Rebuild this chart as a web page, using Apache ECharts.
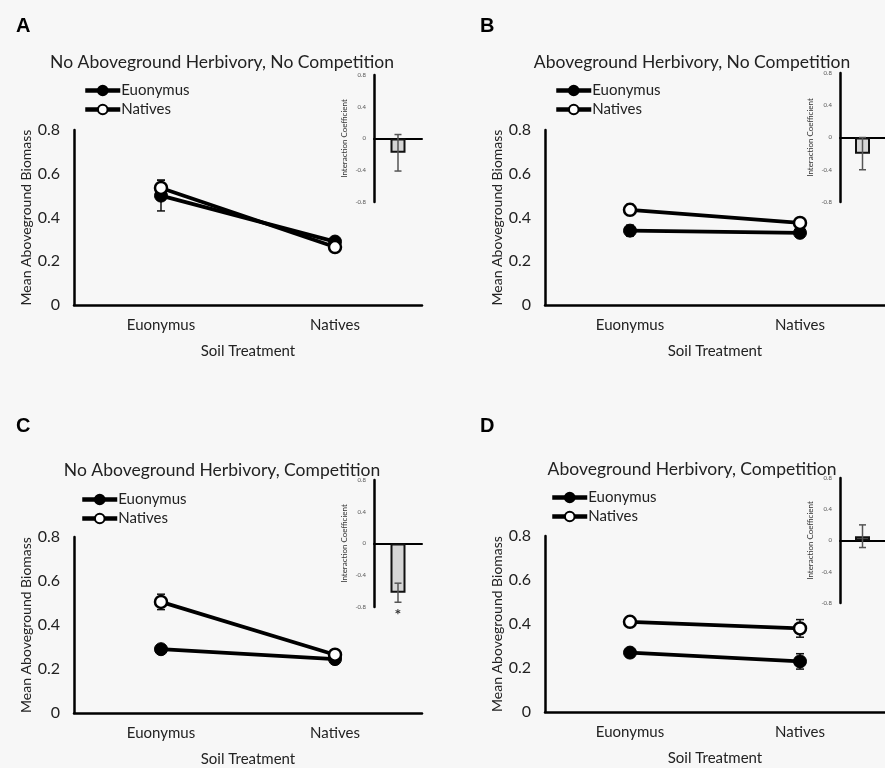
<!DOCTYPE html>
<html>
<head>
<meta charset="utf-8">
<script src="https://cdn.jsdelivr.net/npm/echarts@6/dist/echarts.min.js"></script>
<style>
html,body{margin:0;padding:0;background:#f7f7f7;}
#chart{width:885px;height:768px;}
</style>
</head>
<body>
<div id="chart"></div>
<script>
// ---------------- data ----------------
const categories = ['Euonymus', 'Natives'];
const panelLetters = ['A', 'B', 'C', 'D'];
const panelTitles = [
  'No Aboveground Herbivory, No Competition',
  'Aboveground Herbivory, No Competition',
  'No Aboveground Herbivory, Competition',
  'Aboveground Herbivory, Competition'
];
const seriesNames = ['Euonymus', 'Natives'];
// mean aboveground biomass per panel [Euonymus soil, Natives soil]
const euonymusMean = [[0.50, 0.29], [0.34, 0.33], [0.29, 0.245], [0.27, 0.23]];
const euonymusErr  = [[0.07, 0.02], [0.025, 0.02], [0.01, 0.015], [0.01, 0.035]];
const nativesMean  = [[0.535, 0.265], [0.435, 0.375], [0.505, 0.265], [0.41, 0.38]];
const nativesErr   = [[0.036, 0.015], [0.025, 0.02], [0.035, 0.015], [0.012, 0.04]];
// interaction coefficient inset
const interactionCoef = [-0.18, -0.20, -0.62, 0.055];
const interactionErr  = [0.23, 0.20, 0.12, 0.145];
const significance    = ['', '', '*', ''];
const mainTicks  = [0, 0.2, 0.4, 0.6, 0.8];
const insetTicks = [-0.8, -0.4, 0, 0.4, 0.8];
const xAxisTitle = 'Soil Treatment';
const yAxisTitle = 'Mean Aboveground Biomass';
const insetAxisTitle = 'Interaction Coefficient';

// ---------------- layout ----------------
const FONT = 'Lato, "Open Sans", sans-serif';
const mainGrids = [
  {left: 74, top: 130, width: 348, height: 175},
  {left: 545, top: 130, width: 350, height: 175},
  {left: 74, top: 537, width: 348, height: 176},
  {left: 545, top: 536, width: 350, height: 176}
];
const insetGrids = [
  {left: 374, top: 75, width: 48, height: 127},
  {left: 840, top: 73, width: 48, height: 129},
  {left: 374, top: 480, width: 48, height: 127},
  {left: 840, top: 478, width: 48, height: 125}
];
const titlePos = [[217, 48], [687, 48], [217, 456], [687, 455]];
const letterPos = [[11, 11], [475, 11], [11, 411], [475, 411]];
const legendPos = [[83, 83], [554, 83], [80, 492], [550, 490]];

const grids = [], xAxes = [], yAxes = [], series = [], titles = [], legends = [];

function errRender(color, cap, lw) {
  return function (params, api) {
    const x = api.value(0), lo = api.value(1), hi = api.value(2);
    const a = api.coord([x, lo]), b = api.coord([x, hi]);
    const st = {stroke: color, lineWidth: lw};
    return {type: 'group', children: [
      {type: 'line', shape: {x1: a[0], y1: a[1], x2: b[0], y2: b[1]}, style: st},
      {type: 'line', shape: {x1: a[0] - cap, y1: a[1], x2: a[0] + cap, y2: a[1]}, style: st},
      {type: 'line', shape: {x1: b[0] - cap, y1: b[1], x2: b[0] + cap, y2: b[1]}, style: st}
    ]};
  };
}

for (let p = 0; p < 4; p++) {
  const gi = grids.length;
  grids.push(Object.assign({containLabel: false}, mainGrids[p]));
  xAxes.push({
    gridIndex: gi, type: 'category', data: categories, boundaryGap: true,
    axisLine: {lineStyle: {color: '#000', width: 2.5}},
    axisTick: {show: false},
    axisLabel: {color: '#222', fontSize: 15, fontFamily: FONT, margin: 13},
    name: xAxisTitle, nameLocation: 'middle', nameGap: 39,
    nameTextStyle: {color: '#222', fontSize: 15, fontFamily: FONT},
    splitLine: {show: false}
  });
  yAxes.push({
    gridIndex: gi, type: 'value', min: mainTicks[0], max: mainTicks[mainTicks.length - 1], interval: 0.2,
    axisLine: {show: true, lineStyle: {color: '#000', width: 2.5}},
    axisTick: {show: false},
    axisLabel: {color: '#222', fontSize: 16, fontFamily: FONT, margin: 14},
    splitLine: {show: false},
    name: yAxisTitle, nameLocation: 'middle', nameGap: 40,
    nameTextStyle: {color: '#222', fontSize: 14, fontFamily: FONT}
  });
  const means = [euonymusMean[p], nativesMean[p]];
  const errs = [euonymusErr[p], nativesErr[p]];
  // error bars
  for (let s = 0; s < 2; s++) {
    series.push({
      type: 'custom', xAxisIndex: gi, yAxisIndex: gi, z: 1, silent: true,
      renderItem: errRender('#111', 4, 1.5),
      data: categories.map((c, i) => [i, means[s][i] - errs[s][i], means[s][i] + errs[s][i]])
    });
  }
  series.push({
    name: seriesNames[0], type: 'line', xAxisIndex: gi, yAxisIndex: gi, z: 3,
    data: means[0], symbol: 'circle', symbolSize: 13,
    lineStyle: {color: '#000', width: 3.8},
    itemStyle: {color: '#000', borderColor: '#000', borderWidth: 1}
  });
  series.push({
    name: seriesNames[1], type: 'line', xAxisIndex: gi, yAxisIndex: gi, z: 4,
    data: means[1], symbol: 'circle', symbolSize: 12,
    lineStyle: {color: '#000', width: 3.8},
    itemStyle: {color: '#fff', borderColor: '#000', borderWidth: 2.5}
  });

  // inset
  const ii = grids.length;
  grids.push(Object.assign({containLabel: false}, insetGrids[p]));
  xAxes.push({
    gridIndex: ii, type: 'category', data: [''],
    axisLine: {onZero: true, lineStyle: {color: '#000', width: 2}},
    axisTick: {show: false}, axisLabel: {show: false}, splitLine: {show: false}
  });
  yAxes.push({
    gridIndex: ii, type: 'value', min: insetTicks[0], max: insetTicks[insetTicks.length - 1], interval: 0.4,
    axisLine: {show: true, onZero: false, lineStyle: {color: '#000', width: 2.5}},
    axisTick: {show: false},
    axisLabel: {color: '#555', fontSize: 6, fontFamily: FONT, margin: 8},
    splitLine: {show: false},
    name: insetAxisTitle, nameLocation: 'middle', nameGap: 26,
    nameTextStyle: {color: '#333', fontSize: 8, fontFamily: FONT}
  });
  series.push({
    type: 'bar', xAxisIndex: ii, yAxisIndex: ii, barWidth: 15, silent: true,
    data: [interactionCoef[p]],
    itemStyle: {color: '#d6d6d6', borderColor: '#111', borderWidth: 2}
  });
  series.push({
    type: 'custom', xAxisIndex: ii, yAxisIndex: ii, z: 5, silent: true,
    renderItem: (function (sig) {
      const base = errRender('#555', 3.5, 1.5);
      return function (params, api) {
        const g = base(params, api);
        if (sig) {
          const a = api.coord([api.value(0), api.value(1)]);
          g.children.push({type: 'text', style: {text: sig, x: a[0], y: a[1] + 5, align: 'center',
            verticalAlign: 'top', fontSize: 16, fontWeight: 'bold', fill: '#333', fontFamily: FONT}});
        }
        return g;
      };
    })(significance[p]),
    data: [[0, interactionCoef[p] - interactionErr[p], interactionCoef[p] + interactionErr[p]]]
  });

  titles.push({
    text: panelTitles[p], left: titlePos[p][0], top: titlePos[p][1], textAlign: 'center',
    textStyle: {color: '#222', fontSize: 17.5, fontWeight: 'normal', fontFamily: FONT}
  });
  titles.push({
    text: panelLetters[p], left: letterPos[p][0], top: letterPos[p][1],
    textStyle: {color: '#000', fontSize: 20, fontWeight: 'bold', fontFamily: 'Liberation Sans, Arial, sans-serif'}
  });
  legends.push({
    left: legendPos[p][0], top: legendPos[p][1], orient: 'vertical', itemGap: 4, padding: 0,
    itemWidth: 35, itemHeight: 12, data: seriesNames, selectedMode: false,
    lineStyle: {width: 4.5},
    textStyle: {color: '#222', fontSize: 15, fontFamily: FONT, padding: [0, 0, 0, -4]}
  });
}

const chart = echarts.init(document.getElementById('chart'), null, {renderer: 'canvas'});
chart.setOption({
  backgroundColor: '#f7f7f7',
  animation: false,
  title: titles,
  legend: legends,
  grid: grids,
  xAxis: xAxes,
  yAxis: yAxes,
  series: series
});
</script>
</body>
</html>
